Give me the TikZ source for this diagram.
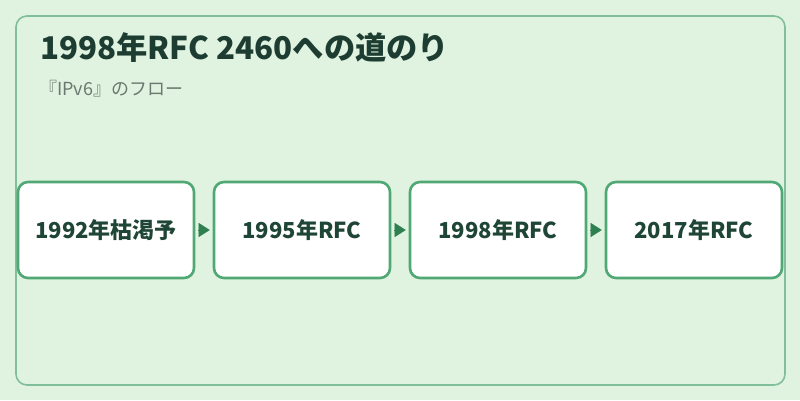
\documentclass[tikz,border=0pt]{standalone}
\usepackage{fontspec}
\setmainfont{Noto Sans CJK JP}
\usetikzlibrary{arrows.meta}
\definecolor{bg}{HTML}{E0F2E0}
\definecolor{frame}{HTML}{80BF99}
\definecolor{boxline}{HTML}{50A874}
\definecolor{arrowc}{HTML}{2E8050}
\definecolor{titlec}{HTML}{1E3D32}
\definecolor{subc}{HTML}{6A7A70}
\definecolor{textc}{HTML}{1E4535}
\tikzset{
  stepbox/.style={draw=boxline, line width=2.6pt, fill=white, rounded corners=10pt,
    minimum width=176pt, minimum height=96pt, inner sep=0pt,
    font=\fontsize{22pt}{26pt}\selectfont\bfseries, text=textc},
  flow/.style={draw=arrowc, line width=0.1pt, -{Triangle[length=11pt,width=14pt]}, fill=arrowc,
    shorten <=3pt, shorten >=3pt}
}
\begin{document}
\begin{tikzpicture}[x=1pt,y=-1pt]
\useasboundingbox (0,0) rectangle (800,400);
\fill[bg] (0,0) rectangle (800,400);
\draw[frame, line width=1.6pt, rounded corners=11pt] (16,16) rectangle (785,385);
\node[anchor=base west, text=titlec, font=\fontsize{31.3pt}{36pt}\selectfont\bfseries, inner sep=0pt] (title) at (40,59) {1998年RFC 2460への道のり};
\node[anchor=base west, text=subc, font=\fontsize{18pt}{20pt}\selectfont, inner sep=0pt] (sub) at (39,95) {『IPv6』のフロー};
\node[stepbox] (a) at (106,230) {1992年枯渇予};
\node[stepbox] (b) at (302,230) {1995年RFC};
\node[stepbox] (c) at (498,230) {1998年RFC};
\node[stepbox] (d) at (694,230) {2017年RFC};
\draw[flow] (a) -- (b);
\draw[flow] (b) -- (c);
\draw[flow] (c) -- (d);
\end{tikzpicture}
\end{document}
